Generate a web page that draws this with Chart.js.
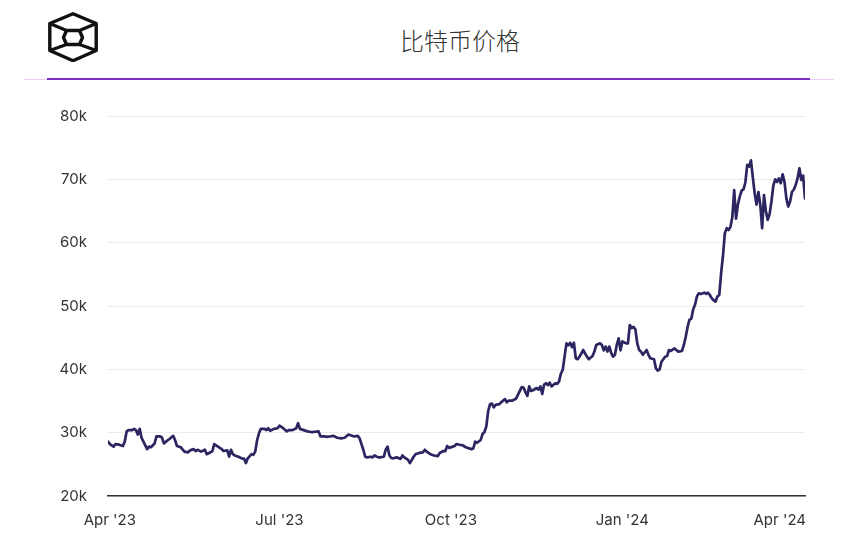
<!DOCTYPE html>
<html lang="zh-CN">
<head>
<meta charset="utf-8">
<title>比特币价格</title>
<script src="https://cdn.jsdelivr.net/npm/chart.js@4.4.1/dist/chart.umd.min.js"></script>
<style>
  html, body { margin: 0; padding: 0; background: #fff; }
  #page { position: relative; width: 864px; height: 540px; overflow: hidden; background: #fff; }
  #logo { position: absolute; left: 48px; top: 12px; width: 50px; height: 50px; }
  #title {
    position: absolute; left: 360px; width: 200px; top: 24px; text-align: center;
    font-family: "Noto Sans CJK SC", "Noto Sans", sans-serif; font-weight: 300;
    font-size: 24px; line-height: 32px; color: #333;
  }
  #rule-soft { position: absolute; left: 24px; width: 810px; top: 79px; height: 1px; background: #e9cdf7; }
  #rule { position: absolute; left: 47px; width: 763px; top: 78px; height: 2px; background: #7b2fc4; }
  #wrap { position: absolute; left: 0; top: 90px; width: 864px; height: 450px; }
</style>
</head>
<body>
<div id="page">
  <svg id="logo" viewBox="0 0 50 50" fill="none" stroke="#111" stroke-width="3.4" stroke-linejoin="round">
    <path d="M25 1.8 L48.2 11.5 L48.2 38.5 L25 48.7 L1.8 38.5 L1.8 11.5 Z"/>
    <path d="M1.8 11.5 L18.5 18.5 L31.5 18.5 L48.2 11.5"/>
    <path d="M1.8 38.5 L18.5 32.5 L31.5 32.5 L48.2 38.5"/>
    <path d="M18.5 18.5 L15.5 25.5 L18.5 32.5"/>
    <path d="M31.5 18.5 L34.5 25.5 L31.5 32.5"/>
  </svg>
  <div id="title">比特币价格</div>
  <div id="rule-soft"></div>
  <div id="rule"></div>
  <div id="wrap"><canvas id="chart"></canvas></div>
</div>
<script>
// Day offsets counted from 31 Mar 2023, with the daily closing price (USD) for that day.
const dayOffsets = [
  0, 1, 3, 4, 6, 8, 9, 10, 11, 13, 14, 15, 16, 17, 18, 20, 21, 22, 23, 25,
  26, 28, 29, 30, 32, 33, 35, 36, 37, 39, 41, 43, 44, 46, 47, 48, 50, 52, 53, 55,
  56, 57, 59, 61, 62, 64, 65, 66, 67, 68, 70, 72, 73, 74, 75, 77, 78, 79, 80, 81,
  82, 84, 85, 86, 87, 89, 91, 92, 94, 96, 97, 99, 101, 102, 103, 105, 107, 109, 110, 113,
  114, 116, 118, 119, 121, 123, 125, 127, 129, 131, 132, 134, 135, 137, 138, 139, 141, 142, 143, 145,
  146, 148, 149, 150, 151, 152, 153, 155, 157, 158, 159, 161, 162, 164, 165, 167, 169, 170, 171, 173,
  175, 177, 178, 180, 181, 182, 183, 185, 186, 187, 189, 190, 192, 195, 196, 197, 198, 200, 201, 202,
  203, 204, 205, 206, 207, 208, 210, 211, 213, 214, 215, 217, 219, 220, 221, 222, 223, 224, 225, 226,
  227, 228, 230, 231, 232, 233, 234, 235, 236, 237, 238, 240, 241, 242, 243, 244, 245, 246, 247, 248,
  249, 250, 251, 252, 253, 254, 255, 256, 257, 258, 260, 261, 262, 264, 265, 266, 267, 268, 269, 270,
  271, 272, 273, 274, 275, 276, 278, 279, 280, 281, 282, 283, 284, 285, 286, 287, 289, 290, 291, 293,
  294, 295, 296, 297, 299, 300, 301, 302, 304, 305, 306, 308, 309, 310, 311, 312, 313, 314, 315, 316,
  317, 318, 320, 321, 322, 323, 324, 325, 326, 327, 328, 329, 330, 331, 332, 333, 334, 335, 336, 337,
  338, 339, 340, 341, 342, 343, 344, 345, 346, 347, 348, 349, 350, 351, 352, 353, 354, 355, 356, 357,
  358, 359, 360, 361, 362, 363, 364, 365, 366, 367, 368, 369, 370, 371, 372, 373, 374
];

const closePrices = [
  28600, 28200, 27800, 28200, 28100, 27900, 28600, 30200, 30400, 30400, 30600, 30400, 29700, 30600, 29200, 28000, 27400, 27800, 27700, 28300,
  29400, 29400, 29200, 28300, 28800, 29000, 29500, 28800, 27900, 27700, 27000, 26900, 27200, 27400, 27100, 27300, 27000, 27300, 26600, 26900,
  27100, 28200, 27800, 27400, 27100, 27200, 26200, 27300, 26600, 26400, 26200, 25900, 25900, 25200, 25950, 26600, 26500, 27000, 28800, 29900,
  30600, 30600, 30400, 30700, 30300, 30600, 30700, 31100, 30700, 30200, 30400, 30400, 30700, 31500, 30600, 30400, 30200, 30100, 30100, 30200,
  29400, 29400, 29350, 29400, 29500, 29200, 29100, 29200, 29700, 29500, 29400, 29500, 29100, 27300, 26200, 26100, 26200, 26100, 26400, 26100,
  26100, 26200, 27300, 27800, 26400, 26000, 25950, 26100, 25850, 26400, 26100, 25700, 25200, 26200, 26600, 26800, 26900, 27300, 27000, 26600,
  26400, 26300, 26800, 27100, 27100, 27900, 27600, 27800, 27900, 28200, 28050, 28050, 27700, 27400, 27500, 28600, 28400, 28850, 29800, 30100,
  31000, 33400, 34500, 34600, 34000, 34400, 34500, 34800, 35300, 34800, 35050, 35050, 35400, 36000, 36600, 37200, 37100, 36400, 35800, 37300,
  36600, 36700, 37050, 36800, 37300, 36100, 37600, 37800, 37500, 37900, 37300, 37800, 37700, 38050, 39300, 39900, 42000, 44100, 43800, 44200,
  43500, 44200, 41750, 41600, 42000, 42500, 43050, 42500, 42000, 41600, 42100, 42800, 43850, 44100, 43850, 43000, 43600, 42800, 43600, 42600,
  42000, 42300, 43850, 44900, 43000, 44400, 44100, 44100, 47000, 46500, 46700, 46300, 44100, 43050, 42800, 42300, 43050, 42300, 41750, 41600,
  40150, 39800, 40000, 41200, 42000, 42100, 43050, 42900, 43300, 43050, 42800, 42900, 43850, 45150, 46700, 47800, 48000, 49500, 50200, 51500,
  52000, 51900, 52100, 51900, 52100, 51700, 51200, 50900, 50700, 51500, 51750, 55200, 58000, 61500, 62300, 62000, 62500, 64000, 68300, 63800,
  66000, 67300, 68200, 68400, 69500, 72300, 72000, 73000, 70300, 67800, 66000, 68000, 66000, 62300, 67500, 65000, 63600, 64500, 66500, 69000,
  70000, 69600, 70150, 69400, 70800, 69600, 67000, 65700, 66500, 68000, 68400, 69100, 70150, 71750, 69900, 70600, 67000
];

// Quarter starts on the time axis (same day offsets as above).
const tickDays = [1, 92, 184, 276, 367];
const tickLabels = ["Apr '23", "Jul '23", "Oct '23", "Jan '24", "Apr '24"];

// Price axis
const priceMin = 20000;
const priceMax = 80000;
const priceStep = 10000;

const axisFont = { family: 'Inter, "Noto Sans", sans-serif', size: 15 };

// Keep the last quarter label inside the plot's right edge.
const justifyLastLabel = {
  id: 'justifyLastLabel',
  beforeDraw(chart) {
    const scale = chart.scales.x;
    const items = scale.getLabelItems();
    const last = items[items.length - 1];
    if (!last) return;
    const ctx = chart.ctx;
    ctx.save();
    ctx.font = last.font.string;
    const w = ctx.measureText(last.label).width;
    ctx.restore();
    const x = last.options.translation[0];
    const right = chart.chartArea.right + 1;
    if (x + w / 2 > right) {
      last.options.textAlign = 'right';
      last.options.translation = [right, last.options.translation[1]];
    }
  }
};

new Chart(document.getElementById('chart'), {
  type: 'line',
  data: {
    datasets: [{
      label: '比特币价格',
      data: dayOffsets.map((d, i) => ({ x: d, y: closePrices[i] })),
      borderColor: '#2b2661',
      borderWidth: 2.7,
      pointRadius: 0,
      pointHoverRadius: 0,
      tension: 0,
      fill: false,
      borderJoinStyle: 'round',
      borderCapStyle: 'round'
    }]
  },
  options: {
    responsive: true,
    maintainAspectRatio: false,
    animation: false,
    events: [],
    layout: { padding: { top: 26, right: 59, bottom: 0, left: 0 } },
    plugins: { legend: { display: false }, tooltip: { enabled: false }, title: { display: false } },
    scales: {
      x: {
        type: 'linear',
        min: 0,
        max: 374,
        afterBuildTicks(scale) { scale.ticks = tickDays.map(v => ({ value: v })); },
        afterFit(scale) { scale.height = 44; scale.paddingLeft = 0; scale.paddingRight = 0; },
        grid: { display: false, drawTicks: false },
        border: { display: true, color: '#333', width: 1.6 },
        ticks: {
          autoSkip: false,
          maxRotation: 0,
          padding: 15,
          color: '#333',
          font: axisFont,
          callback: (v) => { const i = tickDays.indexOf(v); return i >= 0 ? tickLabels[i] : ''; }
        }
      },
      y: {
        min: priceMin,
        max: priceMax,
        afterFit(scale) { scale.width = 108; scale.paddingTop = 0; scale.paddingBottom = 0; },
        grid: { color: '#ebebeb', lineWidth: 1, drawTicks: false },
        border: { display: false },
        ticks: {
          stepSize: priceStep,
          padding: 21,
          color: '#333',
          font: axisFont,
          callback: (v) => (v / 1000) + 'k'
        }
      }
    }
  },
  plugins: [justifyLastLabel]
});
</script>
</body>
</html>
